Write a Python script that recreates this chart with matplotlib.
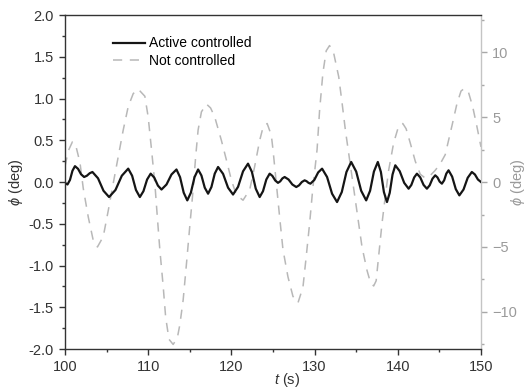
import matplotlib
matplotlib.use("Agg")
import matplotlib.pyplot as plt
from matplotlib.ticker import MultipleLocator

plt.rcParams['font.family'] = ['Liberation Sans', 'DejaVu Sans']
plt.rcParams['mathtext.fontset'] = 'custom'
plt.rcParams['mathtext.rm'] = 'Liberation Sans'
plt.rcParams['mathtext.it'] = 'Liberation Sans:italic'

# active controlled roll angle (left axis, deg)
t_active = [
    100.0, 100.3, 100.6, 100.9, 101.2, 101.57, 101.93, 102.3, 102.63, 102.97,
    103.3, 103.97, 104.63, 105.3, 106.07, 106.83, 107.6, 108.07, 108.53, 109.0,
    109.43, 109.87, 110.3, 110.73, 111.17, 111.6, 112.2, 112.8, 113.4, 113.83,
    114.27, 114.7, 115.13, 115.57, 116.0, 116.4, 116.8, 117.2, 117.6, 118.0,
    118.4, 119.0, 119.6, 120.2, 120.8, 121.4, 122.0, 122.47, 122.93, 123.4,
    123.8, 124.2, 124.6, 124.93, 125.27, 125.6, 125.87, 126.13, 126.4, 126.87,
    127.33, 127.8, 128.13, 128.47, 128.8, 129.03, 129.27, 129.5, 129.97, 130.43,
    130.9, 131.5, 132.1, 132.7, 133.27, 133.83, 134.4, 135.0, 135.6, 136.2,
    136.67, 137.13, 137.6, 137.97, 138.33, 138.7, 139.03, 139.37, 139.7, 140.23,
    140.77, 141.3, 141.63, 141.97, 142.3, 142.7, 143.1, 143.5, 143.83, 144.17,
    144.5, 144.77, 145.03, 145.3, 145.57, 145.83, 146.1, 146.53, 146.97, 147.4,
    147.9, 148.4, 148.9, 149.27, 149.63, 150.0,
]
phi_active = [
    -0.01, -0.03, 0.025, 0.135, 0.19, 0.158, 0.093, 0.06, 0.075, 0.105,
    0.12, 0.045, -0.105, -0.18, -0.095, 0.075, 0.16, 0.075, -0.095, -0.18,
    -0.11, 0.03, 0.10, 0.053, -0.043, -0.09, -0.03, 0.09, 0.15, 0.058,
    -0.128, -0.22, -0.128, 0.058, 0.15, 0.078, -0.068, -0.14, -0.06, 0.10,
    0.18, 0.098, -0.068, -0.15, -0.058, 0.128, 0.22, 0.12, -0.08, -0.18,
    -0.11, 0.03, 0.10, 0.073, 0.018, -0.01, 0.008, 0.043, 0.06, 0.03,
    -0.03, -0.06, -0.04, 0.0, 0.02, 0.01, -0.01, -0.02, 0.025, 0.115,
    0.16, 0.06, -0.14, -0.24, -0.12, 0.12, 0.24, 0.125, -0.105, -0.22,
    -0.105, 0.125, 0.24, 0.12, -0.12, -0.24, -0.13, 0.09, 0.20, 0.13,
    -0.01, -0.08, -0.035, 0.055, 0.10, 0.055, -0.035, -0.08, -0.04, 0.04,
    0.08, 0.055, 0.005, -0.02, 0.02, 0.10, 0.14, 0.065, -0.085, -0.16,
    -0.09, 0.05, 0.12, 0.09, 0.03, 0.0,
]

# not controlled roll angle (right axis, deg)
t_free = [
    100.0, 100.4, 100.9, 101.3, 101.8, 102.2, 102.8, 103.4, 103.9, 104.6,
    105.2, 105.8, 106.4, 107.0, 107.6, 108.2, 108.8, 109.6, 110.0, 110.4,
    110.8, 111.1, 111.4, 111.8, 112.1, 112.5, 113.0, 113.5, 113.8, 114.2,
    114.6, 115.0, 115.4, 115.7, 116.0, 116.4, 117.0, 117.5, 118.0, 118.8,
    119.4, 120.0, 120.6, 121.4, 122.2, 122.8, 123.4, 123.8, 124.3, 124.8,
    125.0, 125.4, 125.8, 126.2, 126.8, 127.4, 128.0, 128.6, 129.0, 129.4,
    129.8, 130.3, 130.6, 131.0, 131.4, 131.8, 132.3, 132.9, 133.3, 133.7,
    134.1, 134.5, 134.9, 135.3, 135.7, 136.3, 136.7, 137.1, 137.4, 137.7,
    138.1, 138.5, 138.9, 139.5, 140.1, 140.6, 141.0, 141.5, 142.1, 142.7,
    143.3, 143.9, 144.5, 145.1, 145.7, 146.5, 147.1, 147.6, 148.0, 148.5,
    149.0, 149.5, 150.0,
]
phi_free = [
    1.2, 2.4, 3.1, 2.8, 1.5, -0.5, -2.7, -4.5, -5.0, -4.2,
    -2.2, -0.1, 1.95, 4.0, 5.8, 6.8, 7.15, 6.6, 5.0, 2.5,
    -0.1, -2.7, -5.2, -8.0, -10.4, -12.1, -12.5, -12.0, -11.0, -9.1,
    -6.3, -3.4, -0.6, 1.9, 4.0, 5.4, 6.0, 5.7, 5.0, 3.2,
    1.7, 0.15, -1.0, -1.4, -0.6, 1.2, 3.2, 4.2, 4.5, 3.6,
    2.5, -0.1, -2.7, -5.2, -7.3, -8.8, -9.3, -8.1, -5.7, -3.2,
    -0.4, 2.5, 5.5, 8.4, 10.1, 10.5, 9.9, 8.1, 6.1, 4.0,
    2.2, 0.4, -1.4, -3.2, -5.0, -6.8, -7.7, -8.0, -7.6, -5.7,
    -3.2, -1.1, 0.9, 3.0, 4.3, 4.5, 4.1, 3.0, 1.6, 0.6,
    0.3, 0.5, 0.9, 1.4, 2.1, 4.3, 6.0, 7.0, 7.2, 6.9,
    5.8, 4.3, 2.7,
]

dark = '#333333'
grey = '#a8a8a8'

fig = plt.figure(figsize=(5.27, 3.88), dpi=100)
ax = fig.add_axes([0.1233, 0.1005, 0.7894, 0.8608])
ax2 = ax.twinx()

l_free, = ax2.plot(t_free, phi_free, color='#b8b8b8', lw=1.1, ls=(0, (6, 5)))
l_act, = ax.plot(t_active, phi_active, color='#151515', lw=1.6)

# black curve over the grey one
ax.set_zorder(ax2.get_zorder() + 1)
ax.patch.set_visible(False)

ax.set_xlim(100, 150)
ax.set_ylim(-2, 2)
ax2.set_ylim(-12.85, 12.85)

ax.xaxis.set_major_locator(MultipleLocator(10))
ax.xaxis.set_minor_locator(MultipleLocator(5))
ax.yaxis.set_major_locator(MultipleLocator(0.5))
ax.yaxis.set_minor_locator(MultipleLocator(0.25))
ax.yaxis.set_major_formatter(matplotlib.ticker.FormatStrFormatter('%.1f'))
ax2.yaxis.set_major_locator(MultipleLocator(5))
ax2.yaxis.set_minor_locator(MultipleLocator(2.5))

ax.tick_params(which='both', direction='out', colors=dark, labelsize=10.5, width=1)
ax.tick_params(which='major', length=4.5)
ax.tick_params(which='minor', length=2.5)
ax.tick_params(axis='y', which='both', right=False)
ax.tick_params(axis='x', which='both', top=False)
ax2.tick_params(which='both', direction='out', colors=grey, labelcolor='#9a9a9a',
                labelsize=10.5, width=1)
ax2.tick_params(which='major', length=4.5)
ax2.tick_params(which='minor', length=2.5)

for side in ['left', 'bottom', 'top']:
    ax.spines[side].set_color(dark)
    ax.spines[side].set_linewidth(1.0)
ax.spines['right'].set_visible(False)
for side in ['left', 'bottom', 'top']:
    ax2.spines[side].set_visible(False)
ax2.spines['right'].set_color('#c4c4c4')
ax2.spines['right'].set_linewidth(1.0)

ax.set_xlabel(r'$t$ (s)', fontsize=10.5, color=dark)
ax.set_ylabel(r'$\phi$ (deg)', fontsize=10.5, color=dark)
ax2.set_ylabel(r'$\phi$ (deg)', fontsize=10.5, color='#9a9a9a', rotation=90)
ax.xaxis.set_label_coords(0.535, -0.093)
ax.xaxis.label.set_verticalalignment('center')
ax.yaxis.set_label_coords(-0.118, 0.5)
ax.yaxis.label.set_verticalalignment('center')
ax2.yaxis.set_label_coords(1.088, 0.5)
ax2.yaxis.label.set_verticalalignment('center')

ax.legend([l_act, l_free], ['Active controlled', 'Not controlled'],
          loc='upper left', bbox_to_anchor=(0.115, 0.936), frameon=False,
          fontsize=10, handlelength=2.3, handletextpad=0.3, labelspacing=0.25,
          borderpad=0, borderaxespad=0)

fig.savefig('out.png', dpi=100)
